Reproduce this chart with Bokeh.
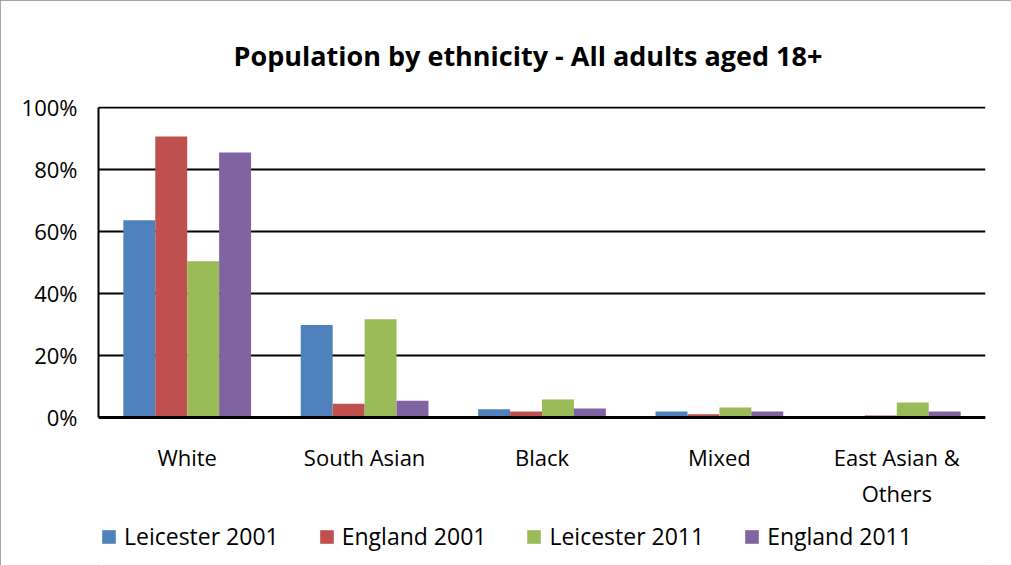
from bokeh.plotting import figure
from bokeh.models import FactorRange, Legend, LegendItem, PrintfTickFormatter, FixedTicker, Range1d
from bokeh.transform import dodge
from bokeh.models import ColumnDataSource
from bokeh.embed import file_html
from bokeh.resources import INLINE

categories = ["White", "South Asian", "Black", "Mixed", "East Asian &\nOthers"]
leicester_2001 = [63.6, 29.8, 2.6, 1.9, 0.4]
england_2001 = [90.6, 4.4, 1.9, 1.0, 0.6]
leicester_2011 = [50.4, 31.7, 5.8, 3.2, 4.8]
england_2011 = [85.5, 5.4, 2.9, 1.9, 1.9]
series_names = ["Leicester 2001", "England 2001", "Leicester 2011", "England 2011"]
colors = ["#4F81BD", "#C0504D", "#9BBB59", "#8064A2"]
y_ticks = [0, 20, 40, 60, 80, 100]

FONT = "Open Sans"
src = ColumnDataSource(dict(cat=categories, l01=leicester_2001, e01=england_2001,
                            l11=leicester_2011, e11=england_2011))

# layout: plot value area 310 px tall for 0..100, frame extended down to canvas bottom
FRAME_TOP = 106
FRAME_H = 565 - FRAME_TOP
PX_PER_UNIT = 310 / 100.0
Y_END = 100.3
Y_START = Y_END - FRAME_H / PX_PER_UNIT

p = figure(width=1011, height=565, x_range=FactorRange(*categories), y_range=Range1d(Y_START, Y_END),
           output_backend="svg", toolbar_location=None,
           min_border_left=98, min_border_right=26, min_border_top=FRAME_TOP, min_border_bottom=0)

keys = ["l01", "e01", "l11", "e11"]
offsets = [-0.27, -0.09, 0.09, 0.27]
renderers = []
for k, off, c in zip(keys, offsets, colors):
    r = p.vbar(x=dodge("cat", off, range=p.x_range), top=k, bottom=0, width=0.18, source=src,
               fill_color=c, line_color=None)
    renderers.append(r)

p.title.text = "Population by ethnicity - All adults aged 18+"
p.title.text_font = FONT
p.title.text_font_size = "27px"
p.title.text_font_style = "bold"
p.title.text_color = "black"
p.title.align = "left"
p.title.offset = 135
p.title.standoff = 66

p.xgrid.grid_line_color = None
p.ygrid.grid_line_color = "black"
p.ygrid.grid_line_width = 2
p.ygrid.ticker = FixedTicker(ticks=y_ticks)
p.outline_line_color = None

p.yaxis.ticker = FixedTicker(ticks=y_ticks)
p.yaxis.bounds = (0, 100)
p.yaxis.formatter = PrintfTickFormatter(format="%d%%")
p.yaxis.axis_line_color = "black"
p.yaxis.axis_line_width = 2
p.yaxis.major_tick_line_color = None
p.yaxis.minor_tick_line_color = None
p.yaxis.major_tick_out = 0
p.yaxis.major_tick_in = 0
p.yaxis.major_label_standoff = 21
p.yaxis.major_label_text_font = FONT
p.yaxis.major_label_text_font_size = "22px"
p.yaxis.major_label_text_color = "black"

p.xaxis.fixed_location = 0
p.xaxis.axis_line_color = "black"
p.xaxis.axis_line_width = 3
p.xaxis.major_tick_line_color = None
p.xaxis.major_tick_out = 0
p.xaxis.major_tick_in = 0
p.xaxis.major_label_standoff = 25
p.xaxis.major_label_text_font = FONT
p.xaxis.major_label_text_font_size = "22px"
p.xaxis.major_label_text_color = "black"

legend = Legend(items=[LegendItem(label=n, renderers=[r]) for n, r in zip(series_names, renderers)],
                orientation="horizontal", label_text_font=FONT, label_text_font_size="23px",
                label_text_color="black",
                glyph_width=17, glyph_height=17, spacing=39, label_standoff=7,
                border_line_color=None, background_fill_alpha=0, padding=0, margin=0,
                location=(2, 13))
p.add_layout(legend)

p.styles = {"outline": "1px solid #888888", "outline-offset": "-1px"}

open("out.html", "w").write(file_html(p, INLINE))
